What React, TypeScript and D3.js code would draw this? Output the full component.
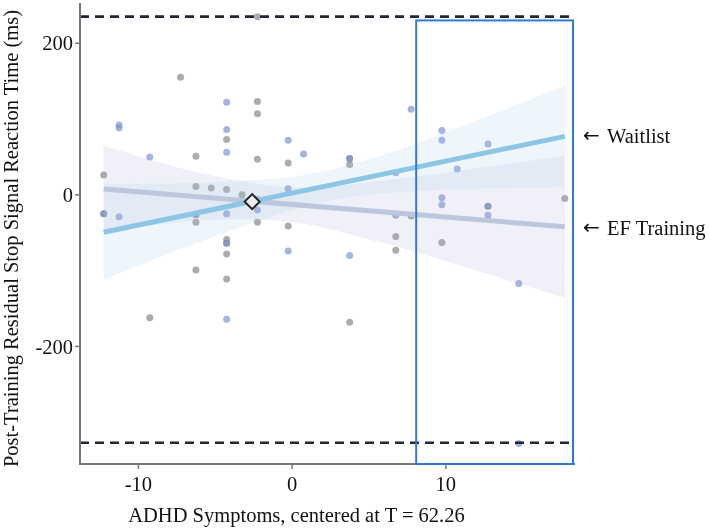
import React from "react";
import * as d3 from "d3";

// ---------- data ----------
const xTicks = [-10, 0, 10];
const yTicks = [-200, 0, 200];

// observed points (x = ADHD T-score centered at 62.26, y = residual SSRT in ms)
const grayPoints: [number, number][] = [
  [-7.26, 155], [-2.26, 123], [-2.26, 107], [-4.26, 73], [-6.26, 51], [-2.26, 47],
  [-0.26, 42], [3.74, 40], [3.74, 48], [-12.26, 26], [-6.26, 11], [-5.26, 9],
  [-4.26, 7], [-3.26, 0], [-12.26, -25], [-6.26, -26], [-6.26, -36], [-2.26, -36],
  [-0.26, -41], [-4.26, -59], [-4.26, -64], [-4.26, -78], [-6.26, -99], [-4.26, -111],
  [-9.26, -162], [3.74, -168], [-2.26, 235], [6.74, -55], [6.74, -73], [9.74, -63],
  [17.74, -5], [7.74, -28], [12.74, -15],
];
const bluePoints: [number, number][] = [
  [-4.26, 122], [-11.26, 92], [-11.26, 88], [-4.26, 86], [-0.26, 72], [-9.26, 50],
  [-4.26, 56], [0.74, 54], [3.74, 48], [-0.26, 8], [-12.26, -25], [-11.26, -29],
  [-6.26, -26], [-4.26, -25], [-2.26, -6], [-2.26, -20], [-4.26, -64], [-0.26, -74],
  [3.74, -80], [-4.26, -164], [14.74, -117], [14.74, -328], [7.74, 113], [9.74, 85],
  [9.74, 72], [12.74, 67], [10.74, 34], [6.74, 29], [9.74, -4], [9.74, -13],
  [12.74, -15], [12.74, -27], [6.74, -27],
];

// fitted lines
const waitlistFitX = [-12.26, 17.74];
const waitlistFitY = [-49.4, 77.1];
const efFitX = [-12.26, 17.74];
const efFitY = [7.6, -42.2];

// confidence bands
const waitlistBandX = [-12.26, -6, 0, 2.2, 6, 12, 17.74];
const waitlistBandLo = [-112, -62, -20, -8, 2, 8, 10];
const waitlistBandHi = [14, 16, 24, 32, 53, 98, 144];
const efBandX = [-12.26, -6, 0, 6, 12, 17.74];
const efBandLo = [-49, -34, -36, -64, -100, -136];
const efBandHi = [65, 29, 10, 19, 35, 52];

// crossover marker
const crossover: [number, number] = [-2.6, -9];

// reference (dashed) lines
const refLines = [235, -327];

// highlighted region
const highlightX = [8.07, 18.27];
const highlightTop = 230;

const seriesLabels = ["Waitlist", "EF Training"];
const xTitle = "ADHD Symptoms, centered at T = 62.26";
const yTitle = "Post-Training Residual Stop Signal Reaction Time (ms)";

// ---------- chart ----------
const W = 709;
const H = 530;
const FONT = "'Liberation Serif', 'Times New Roman', serif";
const FS = 20.5;

export default function App() {
  const x = d3.scaleLinear().domain([-13.8, 18.4]).range([80, 575]);
  const y = d3.scaleLinear().domain([-355, 253]).range([464, 3]);

  const band = (xs: number[], lo: number[], hi: number[]) =>
    d3
      .area<number>()
      .x((d) => x(xs[d]))
      .y0((d) => y(lo[d]))
      .y1((d) => y(hi[d]))
      .curve(d3.curveCatmullRom)(xs.map((_, i) => i)) || "";

  const line = (xs: number[], ys: number[]) =>
    d3
      .line<number>()
      .x((d) => x(xs[d]))
      .y((d) => y(ys[d]))(xs.map((_, i) => i)) || "";

  const cx = x(crossover[0]);
  const cy = y(crossover[1]);
  const dsz = 7.5;

  return (
    <svg
      width={W}
      height={H}
      style={{ position: "absolute", left: 0, top: 0, background: "#fff" }}
      fontFamily={FONT}
    >
      {/* points */}
      <g style={{ mixBlendMode: "multiply" }}>
        {grayPoints.map((p, i) => (
          <circle key={"g" + i} cx={x(p[0])} cy={y(p[1])} r={3.5} fill="#8c8c8c" fillOpacity={0.72} />
        ))}
        {bluePoints.map((p, i) => (
          <circle key={"b" + i} cx={x(p[0])} cy={y(p[1])} r={3.5} fill="#7f8fd2" fillOpacity={0.68} />
        ))}
      </g>

      {/* confidence bands */}
      <path d={band(efBandX, efBandLo, efBandHi)} fill="#a2aad4" fillOpacity={0.16} />
      <path d={band(waitlistBandX, waitlistBandLo, waitlistBandHi)} fill="#9ccbe6" fillOpacity={0.17} />

      {/* fitted lines */}
      <path d={line(efFitX, efFitY)} stroke="#bcc7de" strokeWidth={5} fill="none" />
      <path d={line(waitlistFitX, waitlistFitY)} stroke="#8cc6e4" strokeWidth={5} fill="none" />

      {/* crossover diamond */}
      <path
        d={`M${cx},${cy - dsz} L${cx + dsz},${cy} L${cx},${cy + dsz} L${cx - dsz},${cy} Z`}
        fill="#ececec"
        stroke="#222"
        strokeWidth={2}
      />

      {/* dashed reference lines */}
      {refLines.map((v, i) => (
        <line
          key={"r" + i}
          x1={x.range()[0]}
          x2={x(18.2)}
          y1={y(v)}
          y2={y(v)}
          stroke="#1f2638"
          strokeWidth={2.6}
          strokeDasharray="9,6"
        />
      ))}

      {/* axes */}
      <line x1={80} x2={80} y1={y.range()[1]} y2={y.range()[0] + 1} stroke="#777" strokeWidth={2} />
      <line x1={79} x2={x.range()[1]} y1={y.range()[0]} y2={y.range()[0]} stroke="#777" strokeWidth={2} />
      {yTicks.map((t) => (
        <g key={"yt" + t}>
          <line x1={75} x2={79} y1={y(t)} y2={y(t)} stroke="#6f7a8c" strokeWidth={1.5} />
          <text x={73} y={y(t)} dy="0.35em" textAnchor="end" fontSize={FS} fill="#111">
            {t}
          </text>
        </g>
      ))}
      {xTicks.map((t) => (
        <g key={"xt" + t}>
          <line x1={x(t)} x2={x(t)} y1={465} y2={469} stroke="#6f7a8c" strokeWidth={1.5} />
          <text x={x(t)} y={491} textAnchor="middle" fontSize={FS} fill="#111">
            {t}
          </text>
        </g>
      ))}

      {/* highlighted region */}
      <rect
        x={x(highlightX[0])}
        y={y(highlightTop)}
        width={x(highlightX[1]) - x(highlightX[0])}
        height={y.range()[0] - y(highlightTop)}
        fill="none"
        stroke="#2f7bd2"
        strokeWidth={2}
      />

      {/* titles */}
      <text x={296.5} y={522} textAnchor="middle" fontSize={FS} fill="#111">
        {xTitle}
      </text>
      <text
        transform="translate(18,238.5) rotate(-90)"
        textAnchor="middle"
        fontSize={FS}
        fill="#111"
      >
        {yTitle}
      </text>

      {/* series labels */}
      {[143, 235].map((by, i) => (
        <g key={"lab" + i}>
          <text x={583} y={by - 1} fontSize={20} fill="#111" fontFamily="'DejaVu Sans', sans-serif">
            ←
          </text>
          <text x={607} y={by} fontSize={FS} fill="#111">
            {seriesLabels[i]}
          </text>
        </g>
      ))}
    </svg>
  );
}
